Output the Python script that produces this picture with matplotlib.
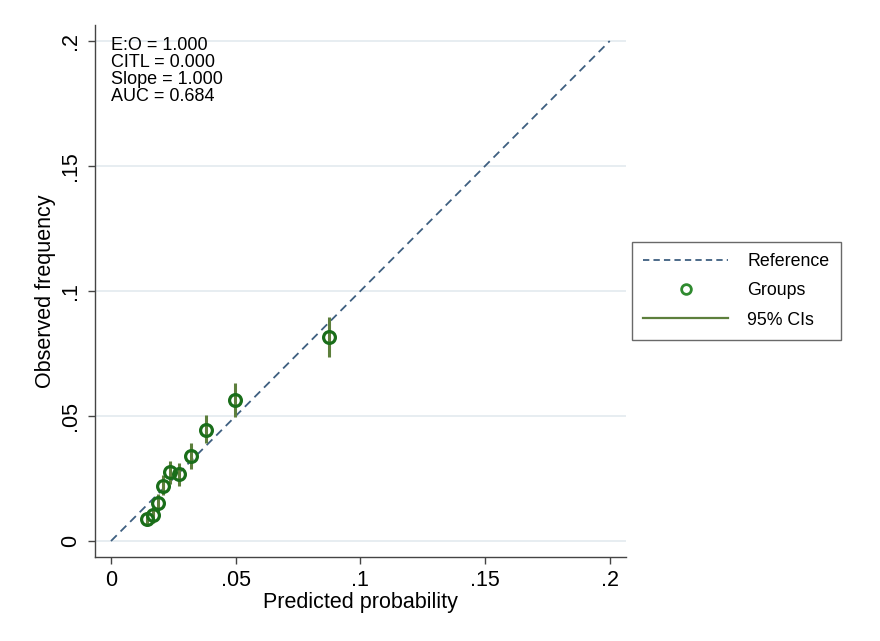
import matplotlib
matplotlib.use('Agg')
import matplotlib.pyplot as plt
from matplotlib.lines import Line2D
import numpy as np

plt.rcParams['font.family'] = ['Liberation Sans', 'DejaVu Sans']

# calibration groups
pred = [0.0145, 0.0169, 0.0187, 0.0209, 0.0236, 0.0273, 0.0320, 0.0380, 0.0496, 0.0876]
obs = [0.0087, 0.0104, 0.0153, 0.0220, 0.0277, 0.0267, 0.0340, 0.0444, 0.0564, 0.0816]
ci_lo = [0.0064, 0.0071, 0.0117, 0.0184, 0.0228, 0.0220, 0.0287, 0.0392, 0.0497, 0.0737]
ci_hi = [0.0112, 0.0137, 0.0190, 0.0264, 0.0321, 0.0311, 0.0391, 0.0504, 0.0631, 0.0897]

ticks = [0, 0.05, 0.1, 0.15, 0.2]
tick_labels = ['0', '.05', '.1', '.15', '.2']
stats_text = 'E:O = 1.000\nCITL = 0.000\nSlope = 1.000\nAUC = 0.684'

ref_col = '#3e5f80'
pt_col = '#1a6e1a'
ci_col = '#5d7f3c'
axis_col = '#444444'

fig = plt.figure(figsize=(8.8, 6.41), dpi=100)
ax = fig.add_axes([0.108, 0.131, 0.603, 0.830])

ax.set_xlim(-0.0064, 0.2064)
ax.set_ylim(-0.0064, 0.2064)

for t in ticks:
    ax.axhline(t, color='#e3eaef', lw=1.2, zorder=0)

ax.plot([0, 0.2], [0, 0.2], ls=(0, (4.5, 3)), color=ref_col, lw=1.3, zorder=1)
ax.vlines(pred, ci_lo, ci_hi, color=ci_col, lw=2.2, zorder=2)
ax.plot(pred, obs, ls='none', marker='o', ms=8.5, mfc='none', mec=pt_col, mew=2.3, zorder=3)

ax.text(0.0, 0.2014, stats_text, fontsize=13, va='top', ha='left', linespacing=1.0,
        transform=ax.transData)

ax.set_xticks(ticks)
ax.set_xticklabels(tick_labels)
ax.set_yticks(ticks)
ax.set_yticklabels(tick_labels, rotation=90, va='center')
ax.tick_params(axis='both', direction='out', length=5, width=1, labelsize=15.5,
               color=axis_col, labelcolor='black')
ax.tick_params(axis='x', pad=4)
ax.tick_params(axis='y', pad=5)

for s in ['top', 'right']:
    ax.spines[s].set_visible(False)
for s in ['left', 'bottom']:
    ax.spines[s].set_linewidth(1)
    ax.spines[s].set_color(axis_col)

ax.set_xlabel('Predicted probability', fontsize=15.5, labelpad=1)
ax.set_ylabel('Observed frequency', fontsize=15.5, labelpad=3)

handles = [
    Line2D([], [], ls=(0, (3.5, 2.3)), color=ref_col, lw=1.3),
    Line2D([], [], ls='none', marker='o', ms=7, mfc='none', mec='#2f8a2f', mew=2),
    Line2D([], [], color=ci_col, lw=1.6),
]
leg = fig.legend(handles, ['Reference', 'Groups', '95% CIs'], loc='upper left',
                 bbox_to_anchor=(632 / 880, 1 - 242 / 641), fontsize=12.8, frameon=True,
                 fancybox=False, handlelength=4.75, handletextpad=1.1, borderpad=0.64,
                 labelspacing=0.68, borderaxespad=0)
leg.get_frame().set_edgecolor('#444444')
leg.get_frame().set_linewidth(1)

fig.savefig('out.png', dpi=100)
